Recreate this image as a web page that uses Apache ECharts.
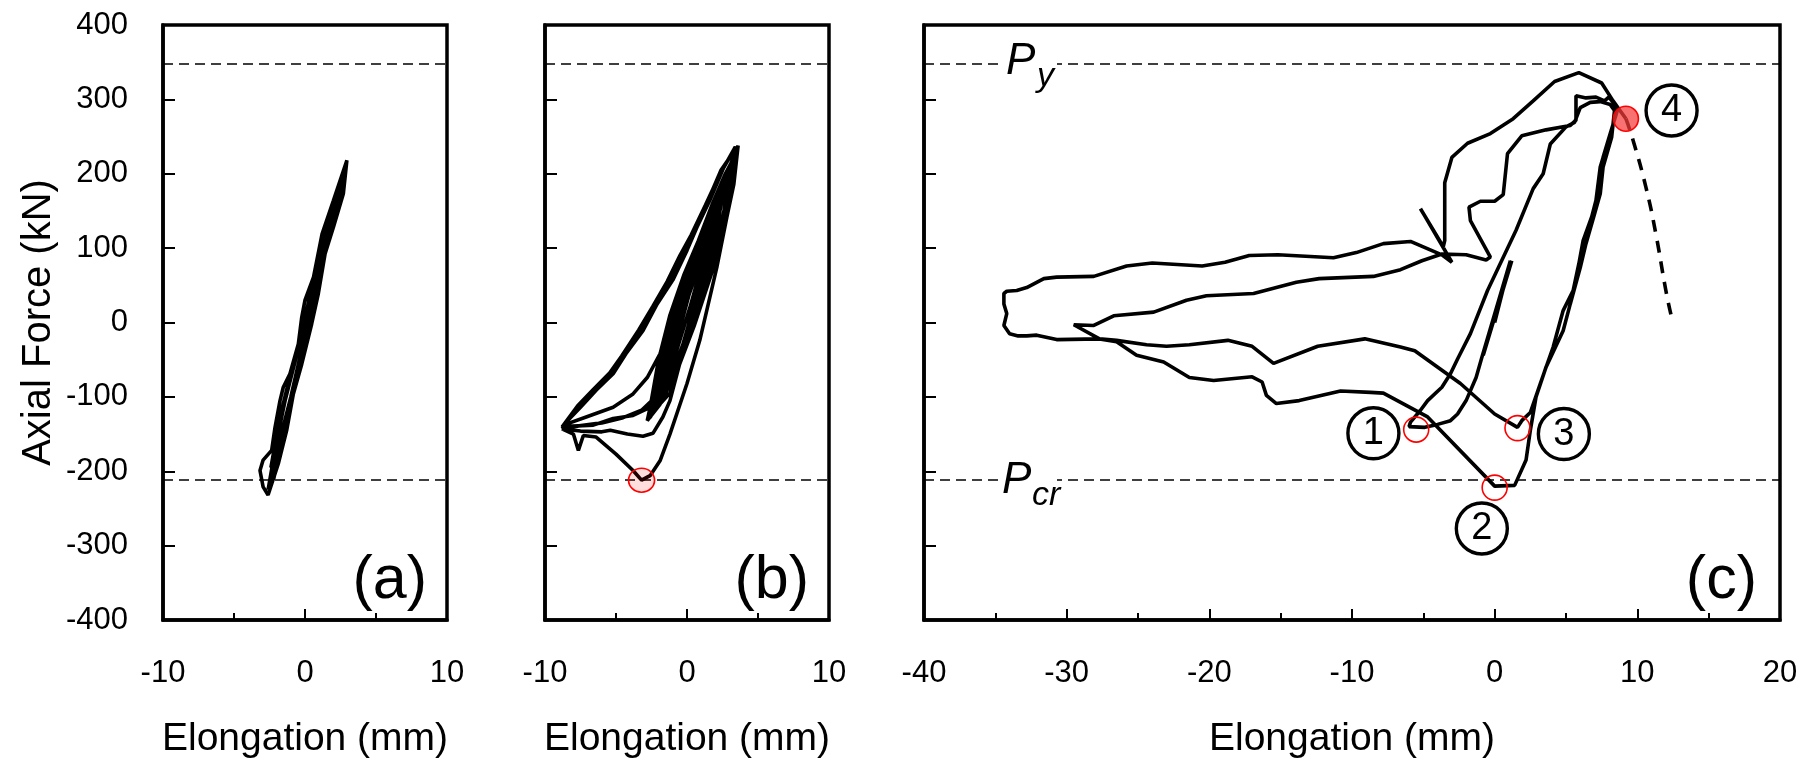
<!DOCTYPE html>
<html>
<head>
<meta charset="utf-8">
<script src="https://cdn.jsdelivr.net/npm/echarts/dist/echarts.min.js"></script>
<style>
  html, body { margin: 0; padding: 0; background: #fff; }
  #chart { width: 1805px; height: 767px; }
</style>
</head>
<body>
<div id="chart"></div>
<script>
// ---- values -------------------------------------------------------------
const panelNames = ['(a)', '(b)', '(c)'];
const elongationRanges = [[-10, 10], [-10, 10], [-40, 20]];   // mm
const forceRange = [-400, 400];                                 // kN
const referenceLoads = [348, -212];                             // P_y, P_cr (kN)

// (a) elastic cycles
const panelATrace = [
  [0, 10], [0.9, 39], [1.4, 92], [2.0, 128], [2.7, 173], [2.95, 218],
  [2.0, 164], [1.2, 119], [0.6, 61], [0.0, 30], [-0.23, 7], [-0.47, -29], [-1.06, -69], [-1.53, -87],
  [-1.76, -105], [-2.11, -141], [-2.35, -172], [-2.95, -185], [-3.17, -199], [-2.95, -221], [-2.6, -232],
  [-2.46, -230], [-1.88, -190], [-1.29, -145], [-0.82, -96], [-0.23, -56], [0.47, -2], [0.94, 39],
  [1.41, 92], [2.0, 128], [2.6, 170], [2.9, 212],
  [2.2, 160], [1.1, 95], [0.3, 25], [-0.6, -45], [-1.4, -105], [-2.0, -160], [-2.5, -215],
  [-2.2, -210], [-1.5, -150], [-0.7, -80], [0.1, -10], [0.9, 60], [1.8, 135], [2.8, 205],
  [2.1, 150], [1.0, 80], [0.1, 12], [-0.9, -60], [-1.8, -130], [-2.4, -195],
  [-1.9, -185], [-1.1, -120], [-0.3, -50], [0.6, 25], [1.6, 110], [2.5, 180], [2.9, 215],
  [2.3, 168], [1.3, 105], [0.4, 40], [-0.5, -35], [-1.3, -95], [-2.1, -170], [-2.6, -225],
  [-2.0, -175], [-1.0, -100], [-0.1, -25], [0.8, 50], [1.9, 140], [2.85, 210],
  [2.4, 178], [1.5, 122], [0.7, 65], [0.2, 28]
];

// (b) cycles up to first buckling and post-buckling loops
const panelBTrace = [
  [0, 0], [1.3, 90], [2.1, 160], [1.0, 95], [-0.2, 20], [-1.2, -50], [-1.8, -100],
  [-0.6, -50], [0.6, 30], [1.6, 105], [2.5, 180], [1.4, 120], [0.0, 45], [-1.0, -20], [-2.1, -110],
  [-0.8, -60], [0.9, 40], [2.0, 120], [2.8, 195], [1.7, 145], [0.4, 75], [-0.9, 0], [-2.4, -120],
  [-1.2, -75], [0.3, 0], [1.6, 80], [2.6, 150], [3.0, 200], [2.0, 165], [0.8, 100], [-0.5, 25], [-1.6, -50], [-2.6, -128],
  [-1.5, -90], [-0.2, -30], [1.2, 45], [2.3, 120], [3.2, 210], [2.3, 175], [1.2, 120], [0.0, 60], [-1.2, -10], [-2.2, -80], [-2.8, -132],
  [-1.9, -110], [-0.6, -55], [0.8, 15], [2.0, 90], [2.9, 160], [3.3, 215], [2.5, 190], [1.5, 140], [0.4, 90], [-0.6, 40], [-1.5, -20], [-2.5, -110],
  [-1.0, -80], [0.5, -5], [1.8, 70], [2.8, 150], [3.4, 225], [2.7, 200], [1.8, 160], [0.8, 110], [-0.2, 65], [-1.2, 10], [-2.0, -50], [-2.7, -125],
  [-1.6, -100], [-0.3, -40], [1.0, 30], [2.2, 110], [3.1, 190], [2.2, 150], [0.9, 80], [-0.4, 15], [-1.6, -60], [-2.4, -120],
  [-1.2, -95], [0.2, -15], [1.5, 60], [2.5, 130], [3.3, 200], [2.6, 170], [1.4, 105], [0.1, 35], [-1.1, -35], [-2.2, -105],
  [-1.6, -92], [0.2, 20], [1.9, 135], [3.4, 225], [3.6, 238],
  [3.3, 186], [2.8, 141], [2.1, 74], [0.9, -24], [0.0, -82], [-1.2, -150], [-1.9, -186], [-2.6, -206], [-3.2, -212],
  [-3.8, -199], [-5.0, -177], [-6.4, -154], [-7.3, -152], [-7.65, -172], [-8.0, -150], [-8.8, -143],
  [-7.5, -146], [-6.0, -147], [-5.4, -145], [-4.2, -150], [-3.1, -153], [-2.4, -149], [-1.7, -127],
  [-1.2, -105], [-0.3, -40], [1.0, 60], [2.2, 150], [3.0, 200], [3.5, 232],
  [3.4, 236], [2.6, 209], [1.6, 164], [0.7, 128], [0.0, 97], [-1.0, 57], [-2.1, 25], [-3.1, -11],
  [-4.3, -42], [-5.2, -69], [-6.4, -91], [-7.5, -114], [-8.8, -140],
  [-6.6, -138], [-5.2, -129], [-3.8, -125], [-2.6, -114], [-1.9, -96], [-0.8, -30], [0.6, 70],
  [1.9, 150], [3.1, 210], [3.6, 236],
  [3.3, 230], [2.4, 205], [1.5, 165], [0.5, 125], [-0.2, 95], [-1.1, 60], [-2.2, 28], [-3.2, -6],
  [-4.4, -40], [-5.4, -67], [-6.6, -90], [-7.7, -112], [-8.7, -138],
  [-7.1, -127], [-5.2, -114], [-3.8, -96], [-2.8, -74], [-1.9, -42], [-0.5, 30], [1.2, 120],
  [2.5, 185], [3.5, 234],
  [3.0, 222], [2.2, 195], [1.3, 158], [0.3, 118], [-0.5, 90], [-1.4, 55], [-2.4, 22], [-3.4, -10],
  [-4.6, -45], [-5.6, -72], [-6.8, -95], [-7.9, -118], [-8.8, -142],
  [-6.0, -135], [-4.5, -128], [-3.2, -118], [-2.2, -100]
];

// (c) large post-buckling cycles up to fracture
const panelCTrace = [
  [0, 0], [1.1, 83], [-0.9, -47], [1.1, 82], [-0.8, -44], [1.2, 83], [-0.9, -47],
  [-1.3, -74], [-2.0, -105], [-2.6, -123], [-3.1, -132], [-4.0, -137], [-4.9, -141], [-6.0, -140],
  [-5.9, -134], [-5.2, -118], [-4.7, -105], [-3.7, -87], [-3.1, -69], [-2.6, -49], [-1.7, -15],
  [-0.5, 43], [1.5, 124], [2.7, 180], [3.4, 200], [3.9, 240], [5.0, 263], [5.6, 269], [6.0, 289],
  [6.7, 296], [7.4, 297], [8.1, 293], [8.4, 285],
  [8.2, 249], [7.6, 209], [7.4, 173], [7.0, 146], [6.4, 106], [6.0, 74], [5.3, 25], [4.8, -11],
  [3.6, -60], [2.9, -100], [2.5, -145], [2.2, -185], [1.4, -219], [0.0, -220],
  [-4.7, -127], [-7.8, -95], [-8.7, -94], [-10.8, -92], [-13.7, -105], [-15.3, -109], [-16.0, -98],
  [-16.3, -80], [-17.0, -73], [-19.7, -78], [-21.4, -74], [-23.2, -53], [-25.1, -44], [-26.5, -26],
  [-27.7, -22], [-29.5, -3],
  [-28.1, -4], [-26.7, 9], [-23.9, 14], [-21.6, 30], [-20.2, 36], [-16.9, 39], [-13.9, 54], [-12.3, 59],
  [-8.5, 62], [-6.6, 71], [-5.1, 83], [-3.7, 92], [-2.0, 91], [-0.6, 84], [-0.3, 88],
  [-1.7, 137], [-1.8, 155], [-1.0, 163], [0.0, 163], [0.6, 172], [0.9, 227], [1.9, 251], [3.6, 259],
  [5.3, 265], [5.7, 272], [5.7, 305], [6.4, 302], [7.1, 303], [7.7, 298], [8.0, 303], [8.3, 296], [8.6, 285],
  [8.1, 254], [7.6, 222], [7.4, 209], [7.1, 164], [6.8, 142], [6.2, 110], [5.9, 79], [5.5, 43], [4.8, 16],
  [4.1, -33], [3.2, -82], [2.5, -121], [1.9, -132], [1.6, -141],
  [0.0, -123], [-2.4, -82], [-5.6, -38], [-6.6, -33], [-9.1, -22], [-12.4, -32], [-15.5, -55],
  [-17.0, -32], [-18.7, -24], [-21.4, -30], [-23.0, -32], [-24.4, -30], [-26.5, -24], [-27.7, -22],
  [-30.7, -23], [-32.1, -17], [-32.8, -18], [-33.4, -18], [-34.0, -15], [-34.4, -4], [-34.2, 12],
  [-34.4, 25], [-34.4, 39], [-34.2, 42], [-33.5, 43], [-32.8, 47], [-31.6, 59], [-30.7, 61], [-28.1, 62],
  [-25.8, 76], [-24.0, 80], [-20.5, 76], [-18.9, 81], [-17.2, 90], [-15.2, 91], [-11.3, 87], [-9.7, 94],
  [-7.8, 106], [-5.9, 109], [-3.7, 91], [-3.0, 81],
  [-5.2, 153], [-3.6, 102], [-3.5, 110], [-3.5, 188],
  [-3.0, 222], [-1.9, 241], [-0.3, 254], [1.3, 274], [2.7, 298], [4.2, 324], [5.9, 336], [7.5, 322],
  [8.3, 298], [9.2, 274]
];

// (c) descending branch after the last peak
const panelCDescent = [[9.2, 274], [9.7, 245], [10.6, 182], [11.3, 119], [12.0, 43], [12.4, 7]];

// marked states
const stateRingsB = [[-3.2, -212]];
const stateRingsC = [[-5.5, -144], [0.0, -222], [1.6, -142]];
const fractureState = [[9.2, 274]];
const stateCallouts = [
  { name: '1', value: [-8.5, -149] },
  { name: '2', value: [-0.9, -277] },
  { name: '3', value: [4.85, -150] },
  { name: '4', value: [12.4, 285] }
];

// ---- layout & styling ---------------------------------------------------
const FONT = '"Liberation Sans", Arial, Helvetica, sans-serif';
const grids = [
  { left: 163, top: 25, width: 284, height: 595 },
  { left: 545, top: 25, width: 284, height: 595 },
  { left: 924, top: 25, width: 856, height: 595 }
];

const xAxes = grids.map((g, i) => ({
  type: 'value', gridIndex: i,
  min: elongationRanges[i][0], max: elongationRanges[i][1], interval: 10,
  axisLine: { show: true, onZero: false, lineStyle: { color: '#000', width: 3.5 } },
  axisTick: { show: true, inside: true, length: 11, lineStyle: { color: '#000', width: 2 } },
  minorTick: { show: true, splitNumber: 2, length: 7, lineStyle: { color: '#000', width: 2 } },
  splitLine: { show: false },
  axisLabel: { color: '#000', fontSize: 31, margin: 38, fontFamily: FONT },
  name: 'Elongation (mm)', nameLocation: 'middle', nameGap: 100,
  nameTextStyle: { color: '#000', fontSize: 39, fontFamily: FONT }
}));

const yAxes = grids.map((g, i) => ({
  type: 'value', gridIndex: i,
  min: forceRange[0], max: forceRange[1], interval: 100,
  axisLine: { show: true, onZero: false, lineStyle: { color: '#000', width: 3.5 } },
  axisTick: { show: true, inside: true, length: 12, lineStyle: { color: '#000', width: 2 } },
  splitLine: { show: false },
  axisLabel: { show: i === 0, color: '#000', fontSize: 31, margin: 35, fontFamily: FONT },
  name: i === 0 ? 'Axial Force (kN)' : '', nameLocation: 'middle', nameGap: 104,
  nameTextStyle: { color: '#000', fontSize: 40, fontFamily: FONT }
}));

const loadLines = {
  silent: true,
  symbol: ['none', 'none'],
  label: { show: false },
  lineStyle: { color: '#000', width: 1.7, type: [10, 6], opacity: 1 },
  data: referenceLoads.map(v => ({ yAxis: v }))
};

function trace(i, data) {
  return {
    type: 'line', xAxisIndex: i, yAxisIndex: i, data,
    showSymbol: false, symbol: 'none', silent: true, z: 3,
    lineStyle: { color: '#000', width: 3.6 },
    markLine: loadLines
  };
}

function rings(i, data, fill, size) {
  return {
    type: 'scatter', xAxisIndex: i, yAxisIndex: i, data, silent: true, z: 6,
    symbol: 'circle', symbolSize: size,
    itemStyle: { color: fill, borderColor: '#ff0000', borderWidth: 1.6, opacity: 1 }
  };
}

const series = [
  trace(0, panelATrace),
  trace(1, panelBTrace),
  trace(2, panelCTrace),
  {
    type: 'line', xAxisIndex: 2, yAxisIndex: 2, data: panelCDescent,
    showSymbol: false, symbol: 'none', silent: true, smooth: true, z: 3,
    lineStyle: { color: '#000', width: 3.6, type: [12, 9] }
  },
  rings(1, stateRingsB, 'rgba(255,0,0,0.13)', [26, 24]),
  rings(2, stateRingsC, 'rgba(255,0,0,0)', 25),
  rings(2, fractureState, 'rgba(245,60,60,0.72)', 25),
  {
    type: 'scatter', xAxisIndex: 2, yAxisIndex: 2, data: stateCallouts, silent: true, z: 7,
    symbol: 'circle', symbolSize: 51,
    itemStyle: { color: 'rgba(255,255,255,0)', borderColor: '#000', borderWidth: 3.4, opacity: 1 },
    label: { show: true, position: 'inside', formatter: '{b}', color: '#000', fontSize: 38, fontFamily: FONT }
  }
];

const panelTagRight = [427, 809, 1757];
const graphic = panelNames.map((t, i) => ({
  type: 'text', z: 100, x: panelTagRight[i], y: 612,
  style: { text: t, fill: '#000', font: '61px ' + FONT, align: 'right', verticalAlign: 'bottom' }
})).concat([
  // P_y
  { type: 'rect', z: 100, shape: { x: 1000, y: 59, width: 57, height: 9 }, style: { fill: '#fff' } },
  { type: 'text', z: 101, x: 1006, y: 62, style: { text: 'P', fill: '#000', font: 'italic 44px ' + FONT, align: 'left', verticalAlign: 'middle' } },
  { type: 'text', z: 101, x: 1037, y: 77, style: { text: 'y', fill: '#000', font: 'italic 34px ' + FONT, align: 'left', verticalAlign: 'middle' } },
  // P_cr
  { type: 'rect', z: 100, shape: { x: 998, y: 476, width: 59, height: 9 }, style: { fill: '#fff' } },
  { type: 'text', z: 101, x: 1002, y: 481, style: { text: 'P', fill: '#000', font: 'italic 44px ' + FONT, align: 'left', verticalAlign: 'middle' } },
  { type: 'text', z: 101, x: 1032, y: 496, style: { text: 'cr', fill: '#000', font: 'italic 34px ' + FONT, align: 'left', verticalAlign: 'middle' } }
]);

const chart = echarts.init(document.getElementById('chart'), null, { renderer: 'canvas' });
chart.setOption({
  animation: false,
  backgroundColor: '#fff',
  textStyle: { fontFamily: FONT },
  grid: grids.map(g => Object.assign({ show: true, borderColor: '#000', borderWidth: 3.5, backgroundColor: 'transparent' }, g)),
  xAxis: xAxes,
  yAxis: yAxes,
  series,
  graphic
});
</script>
</body>
</html>
